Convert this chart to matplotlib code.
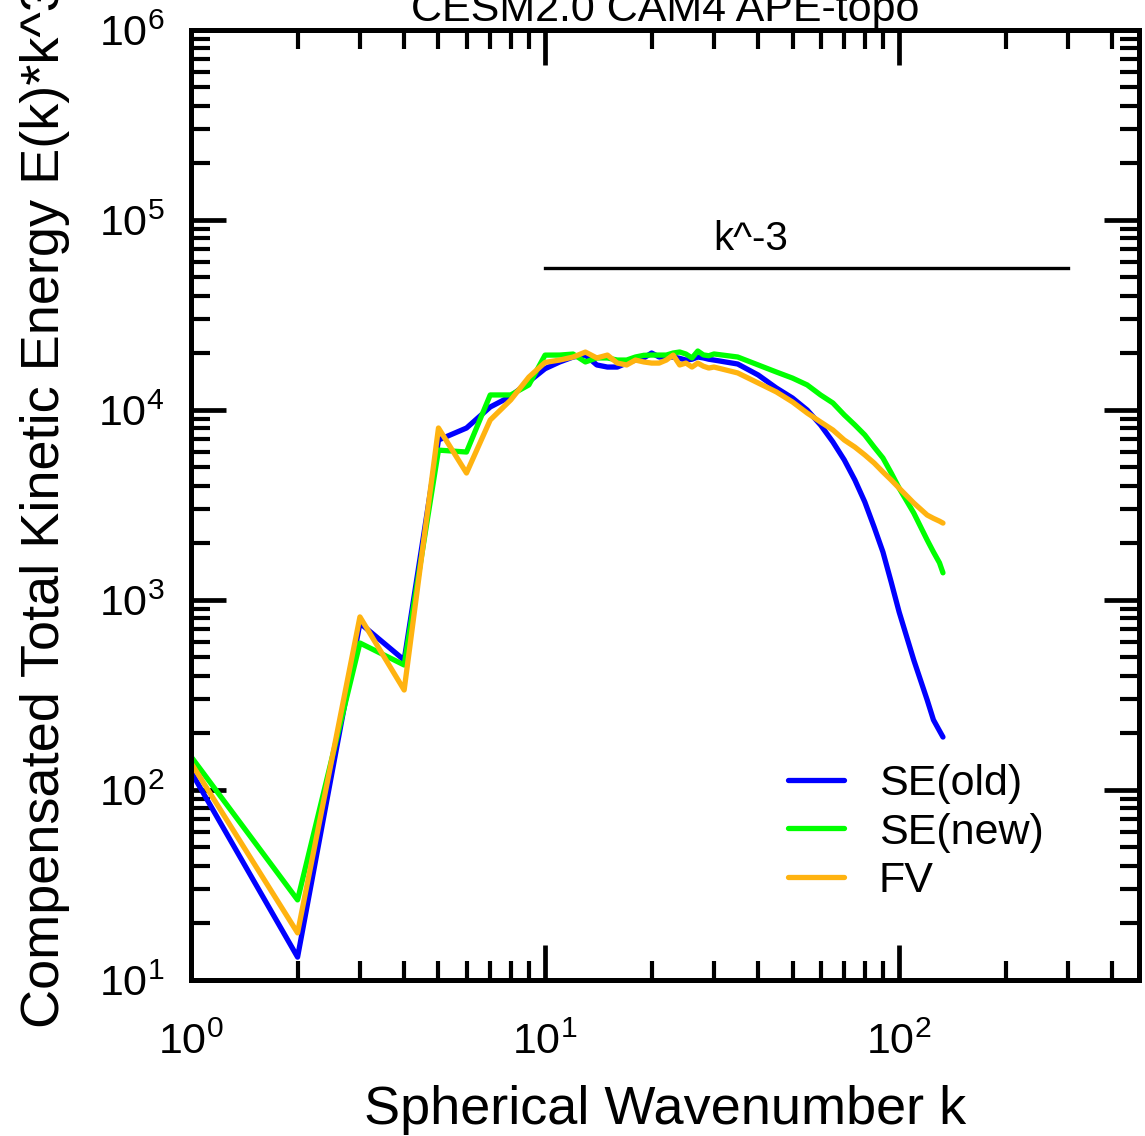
import numpy as np
import matplotlib
matplotlib.use('Agg')
import matplotlib.pyplot as plt
from matplotlib.ticker import LogLocator, NullFormatter

plt.rcParams['font.family'] = ['Liberation Sans', 'DejaVu Sans']

# spherical wavenumber
k = [1, 2, 3, 4, 5, 6, 7, 8, 9, 10, 11, 12, 13, 14, 15, 16, 17, 18, 19, 20,
     21, 22, 23, 24, 25, 26, 27, 28, 29, 30, 35, 40, 45, 50, 55, 60, 65, 70,
     75, 80, 85, 90, 95, 100, 110, 120, 125, 130, 133]

se_old = [125, 13.2, 756, 483, 6950, 8040, 10370, 11800, 14100, 16500,
          17900, 19000, 19460, 17260, 16830, 16830, 17660, 18320, 18790, 19950,
          19010, 19010, 19010, 18700, 18320, 18500, 19000, 18800, 18500, 18320,
          17460, 15280, 13060, 11560, 10000, 8340, 6790, 5460,
          4280, 3280, 2420, 1790, 1240, 865, 483, 298, 234, 205, 190]

se_new = [150, 26.4, 594, 455, 6150, 6010, 12000, 12000, 13550, 19450,
          19460, 19700, 17900, 18790, 18790, 18320, 18320, 19010, 19400, 19460,
          19460, 19460, 19950, 20200, 19700, 18790, 20440, 19500, 19300, 19720,
          19010, 17260, 15850, 14720, 13550, 12000, 10890, 9420,
          8340, 7390, 6380, 5590, 4660, 3880, 2870, 2070, 1790, 1570, 1390]

fv = [139, 17.7, 815, 336, 8040, 4660, 8860, 11300, 14900, 17800,
      18320, 19000, 20180, 18790, 19460, 17660, 17260, 18320, 17900, 17660,
      17660, 18320, 19460, 17260, 17660, 16830, 17660, 17000, 16630, 16830,
      15670, 13870, 12450, 11020, 9640, 8650, 7850, 6950,
      6380, 5800, 5260, 4720, 4280, 3880, 3240, 2800, 2690, 2600, 2540]

# k^-3 reference line
ref_k = [10, 300]
ref_val = [5.6e4, 5.6e4]

series = [('SE(old)', se_old, '#0000FF'),
          ('SE(new)', se_new, '#00FF00'),
          ('FV', fv, '#FFB310')]

fig = plt.figure(figsize=(11.45, 11.36), dpi=100)
ax = fig.add_axes([0.1668, 0.1373, 0.8280, 0.8363])

lines = []
for name, vals, col in series:
    ln, = ax.plot(k, vals, color=col, lw=3.8, label=name, solid_capstyle='round',
                  solid_joinstyle='round')
    lines.append(ln)

ax.plot(ref_k, ref_val, color='black', lw=2.4)
ax.text(38, 6.95e4, 'k^-3', ha='center', va='baseline', fontsize=29)

ax.set_xscale('log')
ax.set_yscale('log')
ax.set_xlim(1, 476)
ax.set_ylim(10, 1e6)

ax.xaxis.set_minor_locator(LogLocator(base=10, subs=np.arange(2, 10), numticks=20))
ax.yaxis.set_minor_locator(LogLocator(base=10, subs=np.arange(2, 10), numticks=20))
ax.xaxis.set_minor_formatter(NullFormatter())
ax.yaxis.set_minor_formatter(NullFormatter())

ax.tick_params(which='both', direction='in', top=True, right=True)
ax.tick_params(which='major', length=25, width=3.4, labelsize=31)
ax.tick_params(axis='y', which='major', pad=19)
ax.tick_params(axis='x', which='major', pad=31)
ax.tick_params(which='minor', length=14, width=3.0)
for sp in ax.spines.values():
    sp.set_linewidth(3.6)

ax.set_title('CESM2.0 CAM4 APE-topo', fontsize=31, pad=3.6)
ax.set_xlabel('Spherical Wavenumber k', fontsize=39)
ax.set_ylabel('Compensated Total Kinetic Energy E(k)*k^3', fontsize=39)
ax.xaxis.set_label_coords(0.5, -0.111)
ax.yaxis.set_label_coords(-0.128, 0.5)

ax.legend(handles=lines, loc='upper left', bbox_to_anchor=(0.63, 0.227),
          frameon=False, fontsize=31, handlelength=1.3, handletextpad=0.8,
          labelspacing=0.19, borderaxespad=0, borderpad=0)

fig.savefig('out.png', dpi=100, facecolor='white')
